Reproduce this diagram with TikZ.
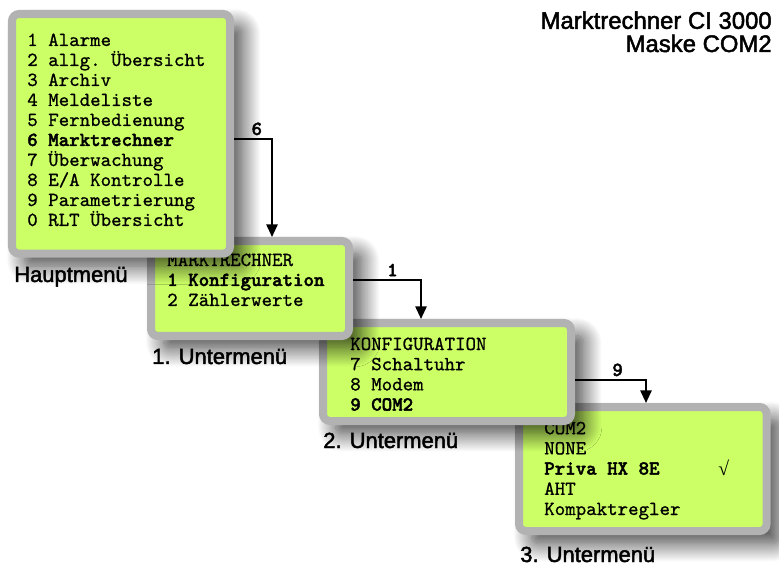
\documentclass[tikz,border=0pt]{standalone}
\usepackage{fontspec}
\setmainfont{Liberation Sans}[FakeBold=2]
\newfontfamily\lcdschrift{lmmono10-regular.otf}[FakeBold=0.8]
\newfontfamily\lcdfett{lmmonolt10-bold.otf}[FakeBold=2]
\newfontfamily\wurzelschrift{Liberation Serif}
\usetikzlibrary{arrows.meta,shadows.blur}
\definecolor{lcdgruen}{RGB}{204,255,102}
\definecolor{rahmengrau}{RGB}{178,178,178}
\newcommand{\lcd}{\lcdschrift\fontsize{14.2}{16}\selectfont}

\begin{document}
\begin{tikzpicture}[
    menue/.style={rectangle, draw=rahmengrau, line width=5.7pt, fill=lcdgruen, rounded corners=5pt, anchor=north west,
      blur shadow={shadow xshift=9pt, shadow yshift=-9pt, shadow blur radius=13pt, shadow blur steps=20, shadow opacity=75}},
    zeile/.style={anchor=base west, inner sep=0pt, font=\lcd},
    beschriftung/.style={anchor=base west, inner sep=0pt, font=\fontsize{15.6}{18}\selectfont},
    titel/.style={anchor=base east, inner sep=0pt, align=right, font=\fontsize{17}{16.5}\selectfont},
    zahl/.style={above, inner sep=2pt, font=\lcd\lcdfett},
    pfeil/.style={-{Triangle[length=9pt,width=8pt]}, line width=1.4pt}
  ]
  \useasboundingbox (0,0) rectangle (19.475,-14.15);

  % von hinten nach vorn, damit der Schatten auf dem naechsten Menue liegt
  % 3. Untermenue
  \node[menue, minimum width=6.19cm, minimum height=3.1cm] at (12.875,-10.075) (com) {};
  \foreach \txt [count=\i] in {COM2, NONE, {\lcdfett Priva HX 8E}, AHT, Kompaktregler}
    \node[zeile] (c\i) at (13.6,-10.35-0.505*\i) {\txt};
  \node[zeile, font=\wurzelschrift\fontsize{14}{14}\selectfont] (haken) at (17.95,-11.875) {√};

  % 2. Untermenue
  \node[menue, minimum width=6.2cm, minimum height=2.45cm] at (7.975,-7.975) (konfig) {};
  \foreach \txt [count=\i] in {KONFIGURATION, 7 Schaltuhr, 8 Modem, {\lcdfett 9 COM2}}
    \node[zeile] (k\i) at (8.75,-8.245-0.505*\i) {\txt};

  % 1. Untermenue
  \node[menue, minimum width=4.95cm, minimum height=2.375cm] at (3.675,-5.925) (markt) {};
  \foreach \txt [count=\i] in {MARKTRECHNER, {\lcdfett 1 Konfiguration}, 2 Zählerwerte}
    \node[zeile] (m\i) at (4.175,-6.15-0.5*\i) {\txt};

  % Hauptmenue
  \node[menue, minimum width=5.45cm, minimum height=5.99cm] at (0.2,-0.25) (haupt) {};
  \foreach \txt [count=\i] in {1 Alarme, 2 allg.\ Übersicht, 3 Archiv, 4 Meldeliste, 5 Fernbedienung,
      {\lcdfett 6 Marktrechner}, 7 Überwachung, 8 E/A Kontrolle, 9 Parametrierung, 0 RLT Übersicht}
    \node[zeile] (h\i) at (0.675,-0.65-0.5*\i) {\txt};

  % Ueberschrift (base = Grundlinie der zweiten Zeile)
  \node[titel] (titel) at (19.3,-1.3) {Marktrechner CI 3000\\Maske COM2};

  % Bezeichnungen
  \node[beschriftung] (lhaupt)  at (0.35,-7.05)  {Hauptmenü};
  \node[beschriftung] (lunter1) at (3.8,-9.1)    {1. Untermenü};
  \node[beschriftung] (lunter2) at (8.075,-11.2) {2. Untermenü};
  \node[beschriftung] (lunter3) at (13.0,-14.05) {3. Untermenü};

  % Tastenwege
  \draw[pfeil] ([yshift=-3.225cm]haupt.north east) -| ([xshift=0.55cm]markt.north) node[zahl, pos=0.3] (n6) {6};
  \draw[pfeil] ([yshift=-1.075cm]markt.north east) -| ([xshift=-0.65cm]konfig.north) node[zahl, pos=0.29] (n1) {1};
  \draw[pfeil] ([yshift=-1.525cm]konfig.north east) -| ([xshift=0.08cm]com.north) node[zahl, pos=0.3] (n9) {9};
\end{tikzpicture}
\end{document}
